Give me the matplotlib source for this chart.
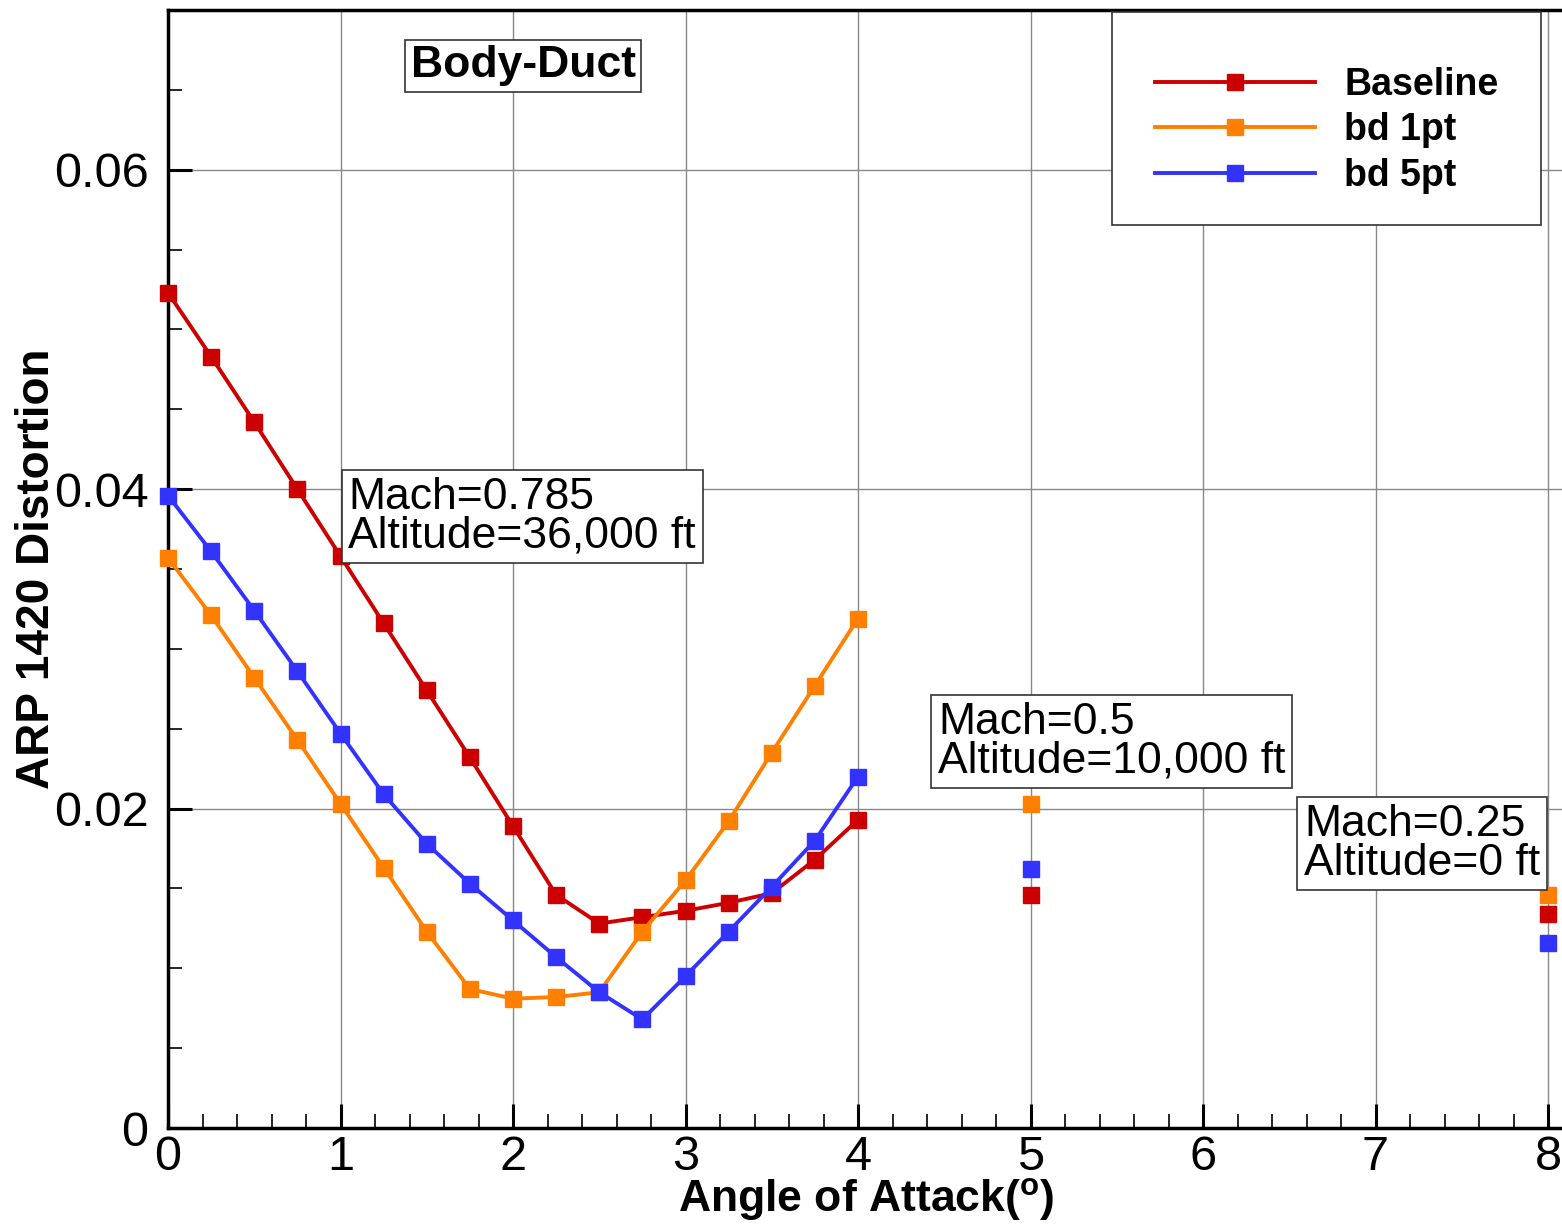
import matplotlib
matplotlib.use('Agg')
import matplotlib.pyplot as plt
from matplotlib.patches import Rectangle

# 字型設定 (Helvetica 類似字型)
plt.rcParams['font.family'] = ['Liberation Sans', 'DejaVu Sans']
plt.rcParams['mathtext.fontset'] = 'custom'
plt.rcParams['mathtext.rm'] = 'Liberation Sans'
plt.rcParams['mathtext.bf'] = 'Liberation Sans:bold'

# Mach=0.785 攻角掃描
aoa = [0.0, 0.25, 0.5, 0.75, 1.0, 1.25, 1.5, 1.75, 2.0, 2.25, 2.5, 2.75, 3.0, 3.25, 3.5, 3.75, 4.0]
baseline = [0.0523, 0.0483, 0.0442, 0.0400, 0.0358, 0.0316, 0.0274, 0.0232, 0.0189,
            0.0146, 0.0128, 0.0132, 0.0136, 0.0141, 0.0147, 0.0168, 0.0193]
bd_1pt = [0.0357, 0.0321, 0.0282, 0.0243, 0.0203, 0.0163, 0.0123, 0.0087, 0.0081,
          0.0082, 0.0085, 0.0123, 0.0155, 0.0192, 0.0235, 0.0277, 0.0319]
bd_5pt = [0.0396, 0.0361, 0.0324, 0.0286, 0.0247, 0.0209, 0.0178, 0.0153, 0.0130,
          0.0107, 0.0085, 0.0068, 0.0095, 0.0123, 0.0151, 0.0180, 0.0220]

# 單點: Mach=0.5 (5 deg), Mach=0.25 (8 deg)
aoa_single = [5.0, 8.0]
baseline_single = [0.0146, 0.0134]
bd_1pt_single = [0.0203, 0.0146]
bd_5pt_single = [0.0162, 0.0116]

series_names = ['Baseline', 'bd 1pt', 'bd 5pt']
colors = ['#cc0000', '#ff8000', '#3333ff']

W, H = 1562, 1230
fig = plt.figure(figsize=(W / 100, H / 100), dpi=100)
ax = fig.add_axes([168 / W, 102 / H, 8.09 * 172.5 / W, 1118 / H])

for name, c, ys, ys1 in zip(series_names, colors,
                            [baseline, bd_1pt, bd_5pt],
                            [baseline_single, bd_1pt_single, bd_5pt_single]):
    ax.plot(aoa, ys, color=c, lw=2.8, marker='s', ms=12, mec=c, label=name,
            zorder=3, clip_on=False)
    ax.plot(aoa_single, ys1, ls='none', color=c, marker='s', ms=12, mec=c,
            zorder=3, clip_on=False)

ax.set_xlim(0, 8.09)
ax.set_ylim(0, 0.07)
ax.set_xticks([0, 1, 2, 3, 4, 5, 6, 7, 8])
ax.set_xticks([i * 0.2 for i in range(41)], minor=True)
ax.set_yticks([0, 0.02, 0.04, 0.06])
ax.set_yticklabels(['0', '0.02', '0.04', '0.06'])
ax.set_yticks([0.005 * i for i in range(14)], minor=True)

ax.grid(True, which='major', color='#888888', lw=1.0, zorder=0)
ax.tick_params(which='major', direction='in', length=17, width=2.2,
               labelsize=35, top=False, right=False)
ax.tick_params(which='minor', direction='in', length=10, width=1.2,
               top=False, right=False)
ax.tick_params(axis='y', which='major', pad=14)
ax.tick_params(axis='x', which='major', pad=5)

for s in ['left', 'bottom', 'top']:
    ax.spines[s].set_linewidth(2.5)
ax.spines['right'].set_visible(False)

ax.set_xlabel(r'Angle of Attack($^{\mathbf{o}}$)', fontsize=32, fontweight='bold', labelpad=-3)
ax.set_ylabel('ARP 1420 Distortion', fontsize=33, fontweight='bold', labelpad=-4)

box = dict(boxstyle='square,pad=0.15', fc='white', ec='#333333', lw=1.2)
ax.text(2.058, 0.0665, 'Body-Duct', fontsize=32, fontweight='bold',
        ha='center', va='center', zorder=5,
        bbox=dict(boxstyle='square,pad=0.12', fc='white', ec='#333333', lw=1.2))
ax.text(1.045, 0.04076, 'Mach=0.785\nAltitude=36,000 ft', fontsize=32,
        ha='left', va='top', linespacing=0.93, bbox=box, zorder=5)
ax.text(4.464, 0.02667, 'Mach=0.5\nAltitude=10,000 ft', fontsize=32,
        ha='left', va='top', linespacing=0.93, bbox=box, zorder=5)
ax.text(6.586, 0.02029, 'Mach=0.25\nAltitude=0 ft', fontsize=32,
        ha='left', va='top', linespacing=0.93, bbox=box, zorder=5)

# 圖例外框另外畫, 內容往下移一點
ax.add_patch(Rectangle((1112 / W, 1 - 225 / H), 429 / W, 213 / H,
                       transform=fig.transFigure, fc='white', ec='#333333',
                       lw=1.2, zorder=5.5, clip_on=False))
leg = ax.legend(loc='upper left', bbox_to_anchor=(1112 / W, 1 - 24 / H),
                bbox_transform=fig.transFigure, numpoints=1, borderaxespad=0,
                handlelength=4.25, handletextpad=0.8, labelspacing=0.25,
                borderpad=1.15, frameon=False,
                prop={'weight': 'bold', 'size': 27})
leg.set_zorder(6)

fig.savefig('out.png', dpi=100)
